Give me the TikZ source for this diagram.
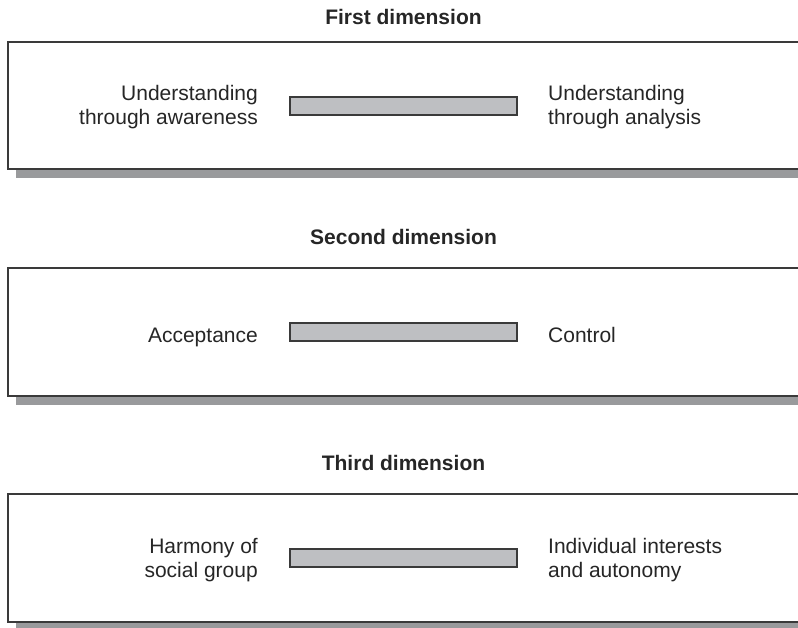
\documentclass[tikz,border=0pt]{standalone}
\usepackage{fontspec}
\setmainfont{Liberation Sans}
\definecolor{edge}{HTML}{3A3A3A}
\definecolor{shade}{HTML}{999A9C}
\definecolor{barfill}{HTML}{BEBFC2}
\begin{document}
\begin{tikzpicture}[x=1pt,y=-1pt,
  panel/.style={draw=edge,line width=1.4pt,fill=white},
  panelshadow/.style={fill=shade,draw=none},
  scalebar/.style={draw=edge,line width=1.1pt,fill=barfill},
  heading/.style={font=\fontsize{21}{24}\selectfont\bfseries,text=black!85,inner sep=0pt,anchor=base},
  lefttext/.style={font=\fontsize{21}{24}\selectfont,text=black!85,align=right,inner sep=0pt,anchor=east},
  righttext/.style={font=\fontsize{21}{24}\selectfont,text=black!85,align=left,inner sep=0pt,anchor=west}]
\useasboundingbox (0,0) rectangle (798,627);
\clip (0,0) rectangle (798,627);
% first dimension
\node[heading] (t1) at (403.5,24) {First dimension};
\fill[panelshadow] (16,169) rectangle (810,178);
\draw[panel] (8,42) rectangle (810,169);
\draw[scalebar] (290,97) rectangle (517,115);
\node[lefttext] (l1) at (258,107) {Understanding\\through awareness};
\node[righttext] (r1) at (548,107) {Understanding\\through analysis};
% second dimension
\node[heading] (t2) at (403.5,244) {Second dimension};
\fill[panelshadow] (16,396) rectangle (810,405);
\draw[panel] (8,268) rectangle (810,396);
\draw[scalebar] (290,323) rectangle (517,341);
\node[lefttext,anchor=base east] (l2) at (258,342) {Acceptance};
\node[righttext,anchor=base west] (r2) at (548,342) {Control};
% third dimension
\node[heading] (t3) at (403.5,470) {Third dimension};
\fill[panelshadow] (16,622) rectangle (810,631);
\draw[panel] (8,494) rectangle (810,622);
\draw[scalebar] (290,549) rectangle (517,567);
\node[lefttext] (l3) at (258,560) {Harmony of\\social group};
\node[righttext] (r3) at (548,560) {Individual interests\\and autonomy};
\end{tikzpicture}
\end{document}
